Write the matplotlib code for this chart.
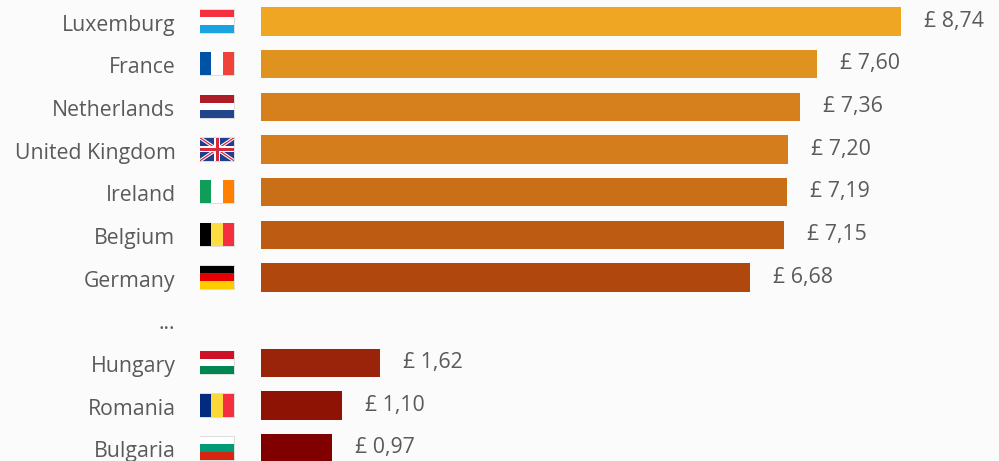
import matplotlib
matplotlib.use("Agg")
import matplotlib.pyplot as plt
from matplotlib.patches import Rectangle

plt.rcParams['font.family'] = ['Open Sans', 'DejaVu Sans']

countries = ['Luxemburg', 'France', 'Netherlands', 'United Kingdom', 'Ireland', 'Belgium',
             'Germany', '...', 'Hungary', 'Romania', 'Bulgaria']
values = [8.74, 7.60, 7.36, 7.20, 7.19, 7.15, 6.68, None, 1.62, 1.10, 0.97]
bar_colors = ['#eea623', '#e0921f', '#d6801d', '#d47d1c', '#c96f18', '#bd5b13', '#b0470d',
              None, '#99240a', '#8f1304', '#800000']

# flag stripes: (direction, colours)
flags = {
    'Luxemburg': ('h', ['#f42f3f', '#ffffff', '#19a3e0']),
    'France': ('v', ['#0052a5', '#ffffff', '#f1423a']),
    'Netherlands': ('h', ['#ae1c28', '#ffffff', '#21468b']),
    'Ireland': ('v', ['#0f9d58', '#ffffff', '#ff7f00']),
    'Belgium': ('v', ['#000000', '#fddc44', '#f42f3f']),
    'Germany': ('h', ['#000000', '#e80000', '#ffcc00']),
    'Hungary': ('h', ['#cd1228', '#ffffff', '#008751']),
    'Romania': ('v', ['#002b7f', '#fcd93a', '#f42f3f']),
    'Bulgaria': ('h', ['#ffffff', '#009b74', '#d62612']),
}

W, H = 999, 461
bg = '#fbfbfb'
text_col = '#5a5a5a'
font_size = 15.3

fig = plt.figure(figsize=(W / 100, H / 100), dpi=100, facecolor=bg)
ax = fig.add_axes([0, 0, 1, 1])
ax.set_facecolor(bg)
# pixels for layout, one unit of value is 73.2 px
ax.set_xlim(0, W)
ax.set_ylim(H, 0)
ax.axis('off')

x0 = 261
scale = 73.2
pitch = 42.68
top = 21.4
bar_h = 28.4


def draw_flag(name, y):
    fx, fw, fh = 200, 34, 23
    fy = y - fh / 2 - 0.2
    # soft shadow under the flag
    ax.add_patch(Rectangle((fx - 0.5, fy - 0.5), fw + 1, fh + 1.5, fc='#dddddd', ec='none', zorder=2))
    if name == 'United Kingdom':
        clip = Rectangle((fx, fy), fw, fh, fc='#1f3f8f', ec='none', zorder=3)
        ax.add_patch(clip)
        for a, b in [((fx, fy), (fx + fw, fy + fh)), ((fx, fy + fh), (fx + fw, fy))]:
            line, = ax.plot([a[0], b[0]], [a[1], b[1]], color='white', lw=2.4, zorder=4, solid_capstyle='butt')
            line.set_clip_path(clip)
            line, = ax.plot([a[0], b[0]], [a[1], b[1]], color='#d8283c', lw=0.9, zorder=5, solid_capstyle='butt')
            line.set_clip_path(clip)
        ax.add_patch(Rectangle((fx + fw / 2 - 3, fy), 6, fh, fc='white', ec='none', zorder=6))
        ax.add_patch(Rectangle((fx, fy + fh / 2 - 3), fw, 6, fc='white', ec='none', zorder=6))
        ax.add_patch(Rectangle((fx + fw / 2 - 1.5, fy), 3, fh, fc='#d8283c', ec='none', zorder=7))
        ax.add_patch(Rectangle((fx, fy + fh / 2 - 1.5), fw, 3, fc='#d8283c', ec='none', zorder=7))
        return
    direction, cols = flags[name]
    for k, c in enumerate(cols):
        if direction == 'h':
            r = Rectangle((fx, fy + k * fh / 3), fw, fh / 3, fc=c, ec='none', zorder=3)
        else:
            r = Rectangle((fx + k * fw / 3, fy), fw / 3, fh, fc=c, ec='none', zorder=3)
        ax.add_patch(r)


for i, name in enumerate(countries):
    y = top + i * pitch
    ax.text(175.5, y + 3.6, name, ha='right', va='center', fontsize=font_size, color=text_col)
    if name == '...':
        continue
    draw_flag(name, y)
    w = values[i] * scale
    ax.barh(y, w, height=bar_h, left=x0, color=bar_colors[i], zorder=2)
    ax.text(x0 + w + 23, y - 0.4, '£ ' + f'{values[i]:.2f}'.replace('.', ','), ha='left', va='center',
            fontsize=font_size, color=text_col)

fig.savefig('out.png', dpi=100, facecolor=bg)
